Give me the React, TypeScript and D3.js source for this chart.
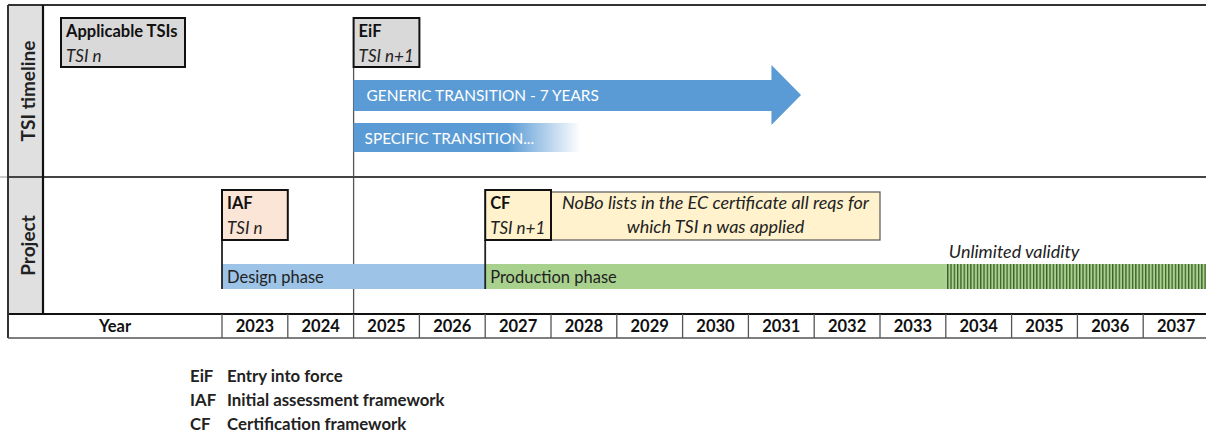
import React from "react";
import * as d3 from "d3";

const years = [2023, 2024, 2025, 2026, 2027, 2028, 2029, 2030, 2031, 2032, 2033, 2034, 2035, 2036, 2037];
const sectionLabels = ["TSI timeline", "Project"];

// Milestone boxes
const milestoneCodes = ["Applicable TSIs", "EiF", "IAF", "CF"];
const milestoneSubs = ["TSI n", "TSI n+1", "TSI n", "TSI n+1"];
const milestoneStart = [2021.7, 2025, 2023, 2027];
const milestoneEnd = [2023.5, 2026, 2024, 2028];
const milestoneFills = ["#d9d9d9", "#d9d9d9", "#fbe5d6", "#fff2cc"];

// Transitions (TSI timeline)
const genericStart = 2025;
const genericBodyEnd = 2031.35;
const genericTip = 2031.8;
const specificStart = 2025;
const specificEnd = 2028.45;

// Phases (Project)
const phaseNames = ["Design phase", "Production phase", ""];
const phaseStart = [2023, 2027, 2034];
const phaseEnd = [2027, 2034, 2038];
const phaseFills = ["#9dc3e6", "#a9d18e", "url(#hatch)"];

const noteLines = ["NoBo lists in the EC certificate all reqs for", "which TSI n was applied"];
const noteStart = 2028;
const noteEnd = 2033;

const legendCodes = ["EiF", "IAF", "CF"];
const legendTexts = ["Entry into force", "Initial assessment framework", "Certification framework"];

const FONT = "Lato, 'Open Sans', sans-serif";
const FS = 16.5;
const FI = 18;

export default function App() {
  const W = 1206, H = 435;
  const x = d3.scaleLinear().domain([2023, 2038]).range([222, 1209]);
  const left = 8, labelW = 43;
  const top = 5, midY = 177, projBottom = 314, yearBottom = 338;
  const boxTopT = 18, boxBotT = 67;
  const boxTopP = 190, boxBotP = 240;
  const phaseTop = 264, phaseBot = 289;

  return (
    <svg width={W} height={H} style={{ display: "block", position: "absolute", left: 0, top: 0 }} fontFamily={FONT}>
      <defs>
        <pattern id="hatch" patternUnits="userSpaceOnUse" width={3.3} height={10}>
          <rect width={3.3} height={10} fill="#a9d18e" />
          <rect x={0} width={1.3} height={10} fill="#3b5e2a" />
        </pattern>
        <linearGradient id="fade" gradientUnits="userSpaceOnUse" x1={x(specificStart)} x2={x(specificEnd)} y1={0} y2={0}>
          <stop offset="0" stopColor="#5b9bd5" />
          <stop offset="0.68" stopColor="#5b9bd5" />
          <stop offset="1" stopColor="#5b9bd5" stopOpacity={0} />
        </linearGradient>
      </defs>
      <rect width={W} height={H} fill="#fff" />

      {/* label column */}
      <rect x={left} y={top} width={labelW - left} height={projBottom - top} fill="#e0e0e0" />
      <line x1={0} x2={left} y1={midY} y2={midY} stroke="#9a9a9a" strokeWidth={1} />

      {sectionLabels.map((s, i) => {
        const cy = i === 0 ? (top + midY) / 2 : (midY + projBottom) / 2;
        return (
          <text key={s} transform={`translate(${35},${cy}) rotate(-90)`} textAnchor="middle"
            fontSize={19} fontWeight="bold" fill="#222">{s}</text>
        );
      })}

      {/* EiF vertical line */}
      <line x1={x(2025)} x2={x(2025)} y1={boxBotT} y2={projBottom} stroke="#555" strokeWidth={1.3} />

      {/* Generic transition arrow */}
      {(() => {
        const x0 = x(genericStart), x1 = x(genericBodyEnd), xt = x(genericTip);
        const p = d3.path();
        p.moveTo(x0, 80); p.lineTo(x1, 80); p.lineTo(x1, 65); p.lineTo(xt, 95);
        p.lineTo(x1, 125); p.lineTo(x1, 111); p.lineTo(x0, 111); p.closePath();
        return (
          <g>
            <path d={p.toString()} fill="#5b9bd5" />
            <text x={x0 + 13} y={101} fontSize={15.4} fill="#fff">GENERIC TRANSITION - 7 YEARS</text>
          </g>
        );
      })()}

      {/* Specific transition */}
      <rect x={x(specificStart)} y={123} width={x(specificEnd) - x(specificStart)} height={29} fill="url(#fade)" />
      <text x={x(specificStart) + 11} y={144} fontSize={15.4} fill="#fff">SPECIFIC TRANSITION...</text>

      {/* Phases */}
      {phaseNames.map((n, i) => (
        <g key={i}>
          <rect x={x(phaseStart[i])} y={phaseTop} width={x(phaseEnd[i]) - x(phaseStart[i])} height={phaseBot - phaseTop} fill={phaseFills[i]} />
          {n && <text x={x(phaseStart[i]) + 5} y={283} fontSize={FS} fill="#222">{n}</text>}
        </g>
      ))}
      <text x={x(2034) + 3} y={258} fontSize={FI} fontStyle="italic" fill="#222">Unlimited validity</text>

      {/* IAF & CF vertical lines */}
      <line x1={x(2023)} x2={x(2023)} y1={boxBotP} y2={phaseBot} stroke="#222" strokeWidth={1.8} />
      <line x1={x(2027)} x2={x(2027)} y1={boxBotP} y2={phaseBot} stroke="#222" strokeWidth={1.8} />

      {/* NoBo note */}
      <rect x={x(noteStart)} y={192} width={x(noteEnd) - x(noteStart)} height={boxBotP - 192} fill="#fff2cc" stroke="#555" strokeWidth={1.2} />
      {noteLines.map((l, i) => (
        <text key={i} x={(x(noteStart) + x(noteEnd)) / 2} y={209 + i * 24} textAnchor="middle" fontSize={FI} fontStyle="italic" fill="#222">{l}</text>
      ))}

      {/* Milestone boxes */}
      {milestoneCodes.map((c, i) => {
        const tsi = i < 2;
        const y0 = tsi ? boxTopT : boxTopP, y1 = tsi ? boxBotT : boxBotP;
        const xs = i === 0 ? 61 : x(milestoneStart[i]);
        const xe = i === 0 ? 185 : x(milestoneEnd[i]);
        return (
          <g key={c}>
            <rect x={xs} y={y0} width={xe - xs} height={y1 - y0} fill={milestoneFills[i]} stroke="#111" strokeWidth={2} />
            <text x={xs + 5} y={y0 + 19} fontSize={FS} fontWeight="bold" fill="#111">{c}</text>
            <text x={xs + 5} y={y0 + 44} fontSize={17} fontStyle="italic" fill="#222">{milestoneSubs[i]}</text>
          </g>
        );
      })}

      {/* Frame lines */}
      <line x1={left} x2={W} y1={top} y2={top} stroke="#333" strokeWidth={2} />
      <line x1={left} x2={W} y1={midY} y2={midY} stroke="#444" strokeWidth={2} />
      <line x1={left} x2={W} y1={projBottom} y2={projBottom} stroke="#111" strokeWidth={2.2} />
      <line x1={left} x2={left} y1={top} y2={yearBottom} stroke="#333" strokeWidth={2} />
      <line x1={labelW} x2={labelW} y1={top} y2={projBottom} stroke="#111" strokeWidth={2.2} />
      <line x1={left} x2={W} y1={yearBottom} y2={yearBottom} stroke="#555" strokeWidth={1.5} />

      {/* Year row */}
      <text x={(left + x(2023)) / 2} y={332} textAnchor="middle" fontSize={FS} fontWeight="bold" fill="#111">Year</text>
      {years.map((yv) => (
        <g key={yv}>
          <line x1={x(yv)} x2={x(yv)} y1={projBottom} y2={yearBottom} stroke="#555" strokeWidth={1.3} />
          <text x={(x(yv) + x(yv + 1)) / 2} y={332} textAnchor="middle" fontSize={FS} fontWeight="bold" fill="#111">{yv}</text>
        </g>
      ))}

      {/* Legend */}
      {legendCodes.map((c, i) => (
        <g key={c}>
          <text x={190} y={382 + i * 24} fontSize={16.8} fontWeight="bold" fill="#222">{c}</text>
          <text x={227} y={382 + i * 24} fontSize={16.8} fontWeight="bold" fill="#222">{legendTexts[i]}</text>
        </g>
      ))}
    </svg>
  );
}
